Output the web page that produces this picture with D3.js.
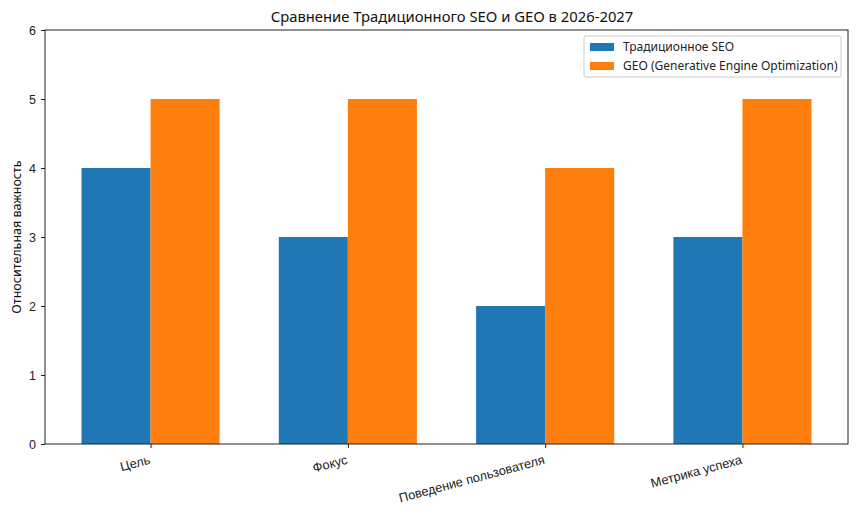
<!DOCTYPE html>
<html>
<head>
<meta charset="utf-8">
<script src="https://cdn.jsdelivr.net/npm/d3@7"></script>
<style>
  body { margin: 0; background: #fff; }
  svg { font-family: "Noto Sans", "DejaVu Sans", sans-serif; }
</style>
</head>
<body>
<svg id="chart" width="860" height="516"></svg>
<script>
  var categories = ["Цель", "Фокус", "Поведение пользователя", "Метрика успеха"];
  var seoValues = [4, 3, 2, 3];
  var geoValues = [5, 5, 4, 5];
  var seriesNames = ["Традиционное SEO", "GEO (Generative Engine Optimization)"];
  var yTicks = [0, 1, 2, 3, 4, 5, 6];

  var colors = ["#1f77b4", "#ff7f0e"];
  var barWidth = 0.35;

  var margin = { top: 30, right: 12, bottom: 72, left: 45 };
  var width = 860, height = 516;

  var svg = d3.select("#chart");

  var x = d3.scaleLinear()
    .domain([-0.535, categories.length - 1 + 0.535])
    .range([margin.left, width - margin.right]);

  var y = d3.scaleLinear()
    .domain([0, 6])
    .range([height - margin.bottom, margin.top]);

  // barres des deux series
  var series = [seoValues, geoValues];
  series.forEach(function (values, s) {
    svg.append("g")
      .selectAll("rect")
      .data(values)
      .enter()
      .append("rect")
      .attr("x", function (d, i) { return x(i + (s === 0 ? -barWidth : 0)); })
      .attr("y", function (d) { return y(d); })
      .attr("width", x(barWidth) - x(0))
      .attr("height", function (d) { return y(0) - y(d); })
      .attr("fill", colors[s]);
  });

  // cadre
  svg.append("rect")
    .attr("x", margin.left)
    .attr("y", margin.top)
    .attr("width", width - margin.right - margin.left)
    .attr("height", height - margin.bottom - margin.top)
    .attr("fill", "none")
    .attr("stroke", "#222")
    .attr("stroke-width", 1);

  var yAxis = svg.append("g")
    .attr("transform", "translate(" + margin.left + ",0)")
    .call(d3.axisLeft(y).tickValues(yTicks).tickFormat(d3.format("d")).tickSize(4).tickPadding(5));
  yAxis.select(".domain").remove();
  yAxis.selectAll("text").attr("font-size", 12.5).attr("fill", "#222");
  yAxis.selectAll("line").attr("stroke", "#222");

  var xAxis = svg.append("g")
    .attr("transform", "translate(0," + (height - margin.bottom) + ")")
    .call(d3.axisBottom(x)
      .tickValues(d3.range(categories.length))
      .tickFormat(function (i) { return categories[i]; })
      .tickSize(4));
  xAxis.select(".domain").remove();
  xAxis.selectAll("line").attr("stroke", "#222");
  xAxis.selectAll("text")
    .attr("font-size", 12.8)
    .attr("fill", "#222")
    .attr("text-anchor", "end")
    .attr("dy", "0.3em")
    .attr("transform", "translate(-3,9) rotate(-15)");

  svg.append("text")
    .attr("x", 452)
    .attr("y", 22)
    .attr("text-anchor", "middle")
    .attr("font-size", 14.8)
    .attr("fill", "#111")
    .text("Сравнение Традиционного SEO и GEO в 2026-2027");

  svg.append("text")
    .attr("transform", "translate(21," + ((margin.top + height - margin.bottom) / 2) + ") rotate(-90)")
    .attr("text-anchor", "middle")
    .attr("font-size", 12.5)
    .attr("fill", "#111")
    .text("Относительная важность");

  // legende
  var legend = svg.append("g").attr("transform", "translate(584,36)");
  legend.append("rect")
    .attr("width", 257)
    .attr("height", 41)
    .attr("rx", 2)
    .attr("fill", "#fff")
    .attr("fill-opacity", 0.8)
    .attr("stroke", "#ccc");
  seriesNames.forEach(function (name, i) {
    legend.append("rect")
      .attr("x", 6)
      .attr("y", 7 + i * 19)
      .attr("width", 24)
      .attr("height", 8)
      .attr("fill", colors[i]);
    legend.append("text")
      .attr("x", 39)
      .attr("y", 11 + i * 19)
      .attr("dy", "0.35em")
      .attr("font-size", 12)
      .attr("fill", "#222")
      .text(name);
  });
</script>
</body>
</html>
